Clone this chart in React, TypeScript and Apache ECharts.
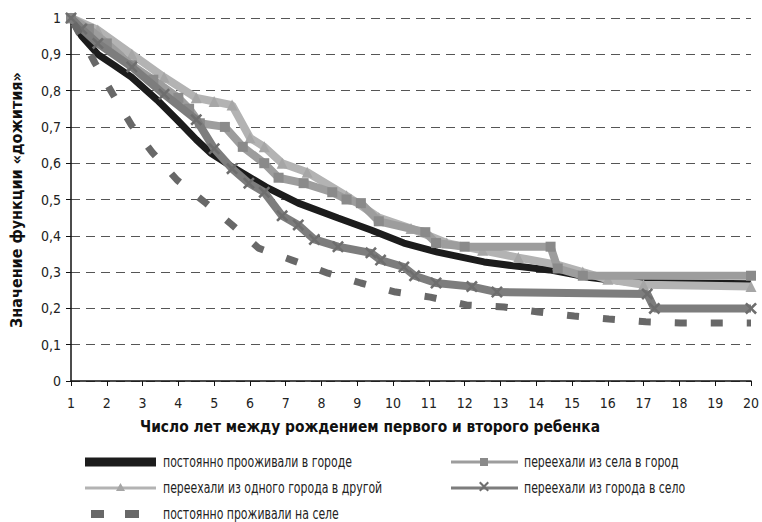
import React, { useEffect, useRef } from "react";
import * as echarts from "echarts";

const FONT = "'Liberation Sans Narrow', 'DejaVu Sans Condensed', 'Arial Narrow', sans-serif";

const seriesNames = [
  "постоянно прооживали в городе",
  "переехали из одного города в другой",
  "переехали из села в город",
  "переехали из города в село",
  "постоянно проживали на селе",
];

const yearTicks = [1, 20];
const yTicks = [0, 1];

// [years, survival]
const townPoints = [
  [1, 1], [1.3, 0.95], [1.75, 0.9], [2.2, 0.87], [2.69, 0.837], [3.41, 0.774], [3.97, 0.719],
  [4.5, 0.665], [4.9, 0.628], [5.5, 0.59], [6.44, 0.535], [7.35, 0.49], [8.46, 0.449],
  [9.38, 0.416], [10.3, 0.38], [11.24, 0.355], [12.54, 0.328], [13.3, 0.318], [14.37, 0.306],
  [15.5, 0.285], [16.6, 0.272], [20, 0.268],
];
const townToTownPoints = [
  [1, 1], [1.75, 0.967], [2.7, 0.9], [3.6, 0.837], [4.5, 0.78], [5.0, 0.77], [5.5, 0.76],
  [6.0, 0.67], [6.4, 0.645], [6.9, 0.6], [7.6, 0.575], [8.7, 0.51], [9.6, 0.45], [10.5, 0.42],
  [11.5, 0.38], [12.5, 0.36], [13.5, 0.34], [14.6, 0.32], [15.3, 0.3], [16, 0.28], [17, 0.265],
  [20, 0.26],
];
const villageToTownPoints = [
  [1, 1], [1.5, 0.97], [2, 0.93], [2.7, 0.87], [3.3, 0.83], [4.0, 0.78], [4.3, 0.75], [4.6, 0.71],
  [5.3, 0.7], [5.8, 0.645], [6.4, 0.6], [6.8, 0.56], [7.5, 0.545], [8.3, 0.52], [8.7, 0.5],
  [9.1, 0.49], [9.6, 0.44], [10.9, 0.41], [11.2, 0.38], [12.0, 0.37], [14.4, 0.37], [14.6, 0.31],
  [15.3, 0.29], [20, 0.29],
];
const townToVillagePoints = [
  [1, 1], [1.3, 0.97], [1.75, 0.93], [2.7, 0.865], [3.6, 0.79], [4.5, 0.72], [5.0, 0.64],
  [5.5, 0.585], [5.97, 0.545], [6.4, 0.52], [6.9, 0.455], [7.35, 0.43], [7.8, 0.39], [8.46, 0.37],
  [9.38, 0.353], [9.65, 0.333], [10.3, 0.314], [10.6, 0.29], [11.2, 0.27], [12.2, 0.26],
  [12.9, 0.245], [17.1, 0.24], [17.3, 0.2], [20, 0.2],
];
const villagePoints = [
  [1, 1], [1.67, 0.876], [2.17, 0.79], [2.69, 0.705], [3.27, 0.63], [3.97, 0.553], [4.77, 0.49],
  [5.5, 0.43], [6.24, 0.366], [7.17, 0.333], [8.18, 0.297], [9.1, 0.27], [10.07, 0.245],
  [11.04, 0.231], [12.07, 0.209], [13.1, 0.204], [14.06, 0.19], [15.06, 0.179], [16.03, 0.171],
  [17.06, 0.163], [18.03, 0.16], [20, 0.16],
];

const xTitle = "Число лет между рождением первого и второго ребенка";
const yTitle = "Значение функции «дожития»";

const COLORS = {
  town: "#1c1c1c",
  townToTown: "#b3b3b3",
  townToTownMark: "#a6a6a6",
  villageToTown: "#9d9d9d",
  villageToTownMark: "#8a8a8a",
  townToVillage: "#7d7d7d",
  townToVillageMark: "#6e6e6e",
  village: "#686868",
};

const CROSS_D = "M0,1.5L1.5,0L5,3.5L8.5,0L10,1.5L6.5,5L10,8.5L8.5,10L5,6.5L1.5,10L0,8.5L3.5,5Z";
const CROSS = "path://" + CROSS_D;

export default function App() {
  const ref = useRef<HTMLDivElement>(null);
  useEffect(() => {
    if (!ref.current) return;
    const chart = echarts.init(ref.current, null, { renderer: "svg" });

    const legendTextStyle = (text: string) => ({
      text,
      font: `15px ${FONT}`,
      fill: "#222",
      verticalAlign: "middle",
    });
    const legendRows = [462, 488, 514];

    const legendGraphics: any[] = [
      // left column
      { type: "rect", shape: { x: 85, y: legendRows[0] - 4.5, width: 71, height: 9 }, style: { fill: COLORS.town } },
      { type: "text", x: 163, y: legendRows[0], scaleX: 0.81, style: legendTextStyle(seriesNames[0]) },
      { type: "line", shape: { x1: 85, y1: legendRows[1], x2: 156, y2: legendRows[1] }, style: { stroke: COLORS.townToTown, lineWidth: 3 } },
      { type: "polygon", shape: { points: [[120.5, legendRows[1] - 5], [125, legendRows[1] + 3], [116, legendRows[1] + 3]] }, style: { fill: COLORS.townToTownMark } },
      { type: "text", x: 163, y: legendRows[1], scaleX: 0.81, style: legendTextStyle(seriesNames[1]) },
      { type: "rect", shape: { x: 91, y: legendRows[2] - 4, width: 13, height: 8 }, style: { fill: COLORS.village } },
      { type: "rect", shape: { x: 125, y: legendRows[2] - 4, width: 14, height: 8 }, style: { fill: COLORS.village } },
      { type: "text", x: 163, y: legendRows[2], scaleX: 0.81, style: legendTextStyle(seriesNames[4]) },
      // right column
      { type: "line", shape: { x1: 451, y1: legendRows[0], x2: 518, y2: legendRows[0] }, style: { stroke: COLORS.villageToTown, lineWidth: 3 } },
      { type: "rect", shape: { x: 480, y: legendRows[0] - 4, width: 8, height: 8 }, style: { fill: COLORS.villageToTownMark } },
      { type: "text", x: 524, y: legendRows[0], scaleX: 0.81, style: legendTextStyle(seriesNames[2]) },
      { type: "line", shape: { x1: 451, y1: legendRows[1], x2: 518, y2: legendRows[1] }, style: { stroke: COLORS.townToVillage, lineWidth: 3 } },
      { type: "polygon", shape: { points: [[479, 483], [480.5, 481.5], [484, 485], [487.5, 481.5], [489, 483], [485.5, 486.5], [489, 490], [487.5, 491.5], [484, 488], [480.5, 491.5], [479, 490], [482.5, 486.5]] }, style: { fill: COLORS.townToVillageMark } },
      { type: "text", x: 524, y: legendRows[1], scaleX: 0.81, style: legendTextStyle(seriesNames[3]) },
    ];

    chart.setOption({
      animation: false,
      backgroundColor: "#fff",
      grid: { left: 71, right: 5, top: 18, bottom: 141 },
      xAxis: {
        type: "value",
        min: yearTicks[0],
        max: yearTicks[1],
        interval: 1,
        axisLine: { lineStyle: { color: "#111", width: 1.5 } },
        axisTick: { show: true, length: 5, lineStyle: { color: "#111" } },
        axisLabel: { fontFamily: FONT, fontSize: 14, color: "#222", margin: 15 },
        splitLine: { show: false },
      },
      yAxis: {
        type: "value",
        min: yTicks[0],
        max: yTicks[1],
        interval: 0.1,
        axisLine: { show: true, lineStyle: { color: "#111", width: 1.5 } },
        axisTick: { show: true, length: 5, lineStyle: { color: "#111" } },
        axisLabel: {
          fontFamily: FONT,
          fontSize: 14,
          color: "#222",
          margin: 10,
          formatter: (v: number) =>
            v === 0 ? "0" : v === 1 ? "1" : v.toFixed(1).replace(".", ","),
        },
        splitLine: { show: true, lineStyle: { color: "#555", width: 1.2, type: [9, 6] } },
      },
      graphic: [
        {
          type: "text",
          x: 140,
          y: 426,
          scaleX: 0.96,
          style: { text: xTitle, font: `bold 16px ${FONT}`, fill: "#111", verticalAlign: "middle" },
        },
        {
          type: "text",
          x: 16,
          y: 200,
          rotation: Math.PI / 2,
          style: {
            text: yTitle,
            font: `bold 16px ${FONT}`,
            fill: "#111",
            align: "center",
            verticalAlign: "middle",
          },
        },
        ...legendGraphics,
      ],
      series: [
        {
          name: seriesNames[0],
          type: "line",
          data: townPoints,
          showSymbol: false,
          symbol: "none",
          lineStyle: { color: COLORS.town, width: 7 },
          itemStyle: { color: COLORS.town },
          z: 2,
        },
        {
          name: seriesNames[1],
          type: "line",
          data: townToTownPoints,
          symbol: "triangle",
          symbolSize: 11,
          lineStyle: { color: COLORS.townToTown, width: 8 },
          itemStyle: { color: COLORS.townToTownMark },
          z: 3,
        },
        {
          name: seriesNames[2],
          type: "line",
          data: villageToTownPoints,
          symbol: "rect",
          symbolSize: 10,
          lineStyle: { color: COLORS.villageToTown, width: 8 },
          itemStyle: { color: COLORS.villageToTownMark },
          z: 4,
        },
        {
          name: seriesNames[3],
          type: "line",
          data: townToVillagePoints,
          symbol: CROSS,
          symbolSize: 12,
          lineStyle: { color: COLORS.townToVillage, width: 8 },
          itemStyle: { color: COLORS.townToVillageMark },
          z: 5,
        },
        {
          name: seriesNames[4],
          type: "line",
          data: villagePoints,
          showSymbol: false,
          symbol: "none",
          lineStyle: { color: COLORS.village, width: 7, type: [12, 24], dashOffset: -6, cap: "butt" },
          itemStyle: { color: COLORS.village },
          z: 6,
        },
      ],
    });
    return () => chart.dispose();
  }, []);
  return (
    <div
      ref={ref}
      style={{ position: "fixed", left: 0, top: 0, width: 762, height: 522, background: "#fff" }}
    />
  );
}
